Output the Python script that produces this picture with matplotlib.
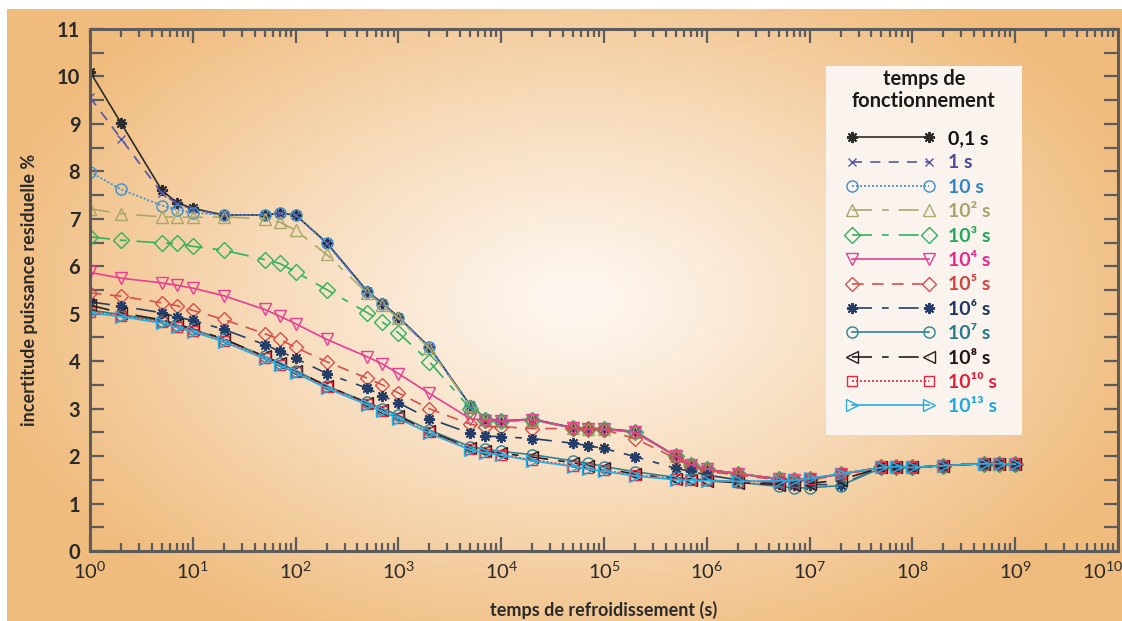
import numpy as np
import matplotlib
matplotlib.use("Agg")
import matplotlib.pyplot as plt
from matplotlib.ticker import LogLocator, LogFormatterMathtext, MultipleLocator, NullFormatter
from matplotlib.lines import Line2D
from matplotlib.patches import Rectangle
from matplotlib.transforms import ScaledTranslation

plt.rcParams.update({
    "font.family": ["Lato", "DejaVu Sans"],
    "mathtext.fontset": "custom",
    "mathtext.rm": "Lato",
    "mathtext.it": "Lato",
    "mathtext.bf": "Lato:bold",
})

# ---------------- data ----------------

cooling_time = [1, 2, 5, 7, 1e1, 2e1, 5e1, 7e1, 1e2, 2e2, 5e2, 7e2, 1e3, 2e3, 5e3, 7e3,
                1e4, 2e4, 5e4, 7e4, 1e5, 2e5, 5e5, 7e5, 1e6, 2e6, 5e6, 7e6, 1e7, 2e7,
                5e7, 7e7, 1e8, 2e8, 5e8, 7e8, 1e9]

y_01s = [10.10, 9.02, 7.60, 7.34, 7.22, 7.08, 7.08, 7.12, 7.08, 6.50, 5.47, 5.22, 4.93, 4.30,
         3.07, 2.80, 2.74, 2.78, 2.60, 2.58, 2.58, 2.52, 2.00, 1.82, 1.72, 1.63, 1.52, 1.50,
         1.52, 1.62, 1.76, 1.78, 1.76, 1.80, 1.84, 1.84, 1.83]
y_1s = [9.56, 8.69, 7.54, 7.32, 7.20, 7.08, 7.08, 7.12, 7.08, 6.49, 5.46, 5.21, 4.92, 4.29,
        3.06, 2.79, 2.74, 2.77, 2.60, 2.58, 2.57, 2.51, 2.00, 1.82, 1.72, 1.63, 1.52, 1.50,
        1.52, 1.62, 1.76, 1.78, 1.76, 1.80, 1.84, 1.84, 1.83]
y_10s = [7.99, 7.62, 7.28, 7.19, 7.13, 7.08, 7.08, 7.12, 7.08, 6.48, 5.45, 5.20, 4.92, 4.29,
         3.06, 2.79, 2.74, 2.77, 2.60, 2.58, 2.57, 2.51, 2.00, 1.82, 1.72, 1.63, 1.52, 1.50,
         1.52, 1.62, 1.76, 1.78, 1.76, 1.80, 1.84, 1.84, 1.83]
y_1e2 = [7.21, 7.11, 7.04, 7.04, 7.03, 7.04, 7.00, 6.93, 6.76, 6.25, 5.43, 5.18, 4.90, 4.27,
         3.05, 2.78, 2.73, 2.77, 2.59, 2.57, 2.57, 2.50, 2.00, 1.82, 1.72, 1.63, 1.52, 1.50,
         1.52, 1.62, 1.76, 1.78, 1.76, 1.80, 1.84, 1.84, 1.83]
y_1e3 = [6.62, 6.55, 6.49, 6.48, 6.42, 6.34, 6.14, 6.06, 5.88, 5.51, 5.02, 4.82, 4.60, 3.99,
         3.00, 2.76, 2.73, 2.76, 2.59, 2.57, 2.57, 2.50, 2.00, 1.82, 1.72, 1.63, 1.52, 1.50,
         1.52, 1.62, 1.76, 1.78, 1.76, 1.80, 1.84, 1.84, 1.83]
y_1e4 = [5.87, 5.75, 5.65, 5.60, 5.54, 5.38, 5.09, 4.95, 4.79, 4.46, 4.09, 3.94, 3.74, 3.32,
         2.79, 2.75, 2.74, 2.77, 2.59, 2.57, 2.57, 2.50, 2.00, 1.82, 1.72, 1.63, 1.52, 1.50,
         1.52, 1.62, 1.76, 1.78, 1.76, 1.80, 1.84, 1.84, 1.83]
y_1e5 = [5.44, 5.37, 5.23, 5.17, 5.07, 4.88, 4.58, 4.46, 4.29, 3.99, 3.64, 3.50, 3.33, 3.00,
         2.67, 2.62, 2.62, 2.58, 2.58, 2.57, 2.56, 2.37, 1.95, 1.78, 1.68, 1.60, 1.50, 1.48,
         1.50, 1.60, 1.76, 1.78, 1.76, 1.80, 1.84, 1.84, 1.83]
y_1e6 = [5.25, 5.16, 5.02, 4.93, 4.86, 4.67, 4.35, 4.21, 4.06, 3.74, 3.43, 3.27, 3.12, 2.79,
         2.48, 2.42, 2.41, 2.37, 2.27, 2.22, 2.16, 1.99, 1.74, 1.68, 1.60, 1.50, 1.42, 1.40,
         1.40, 1.40, 1.76, 1.78, 1.76, 1.80, 1.84, 1.84, 1.83]
y_1e7 = [5.08, 4.98, 4.85, 4.76, 4.67, 4.46, 4.10, 3.96, 3.80, 3.48, 3.13, 3.00, 2.86, 2.55,
         2.20, 2.14, 2.10, 2.03, 1.90, 1.85, 1.78, 1.67, 1.55, 1.52, 1.50, 1.45, 1.36, 1.33,
         1.33, 1.38, 1.75, 1.78, 1.75, 1.80, 1.84, 1.84, 1.82]
y_1e8 = [5.18, 5.02, 4.87, 4.78, 4.68, 4.47, 4.10, 3.96, 3.80, 3.48, 3.12, 2.98, 2.84, 2.52,
         2.17, 2.10, 2.06, 1.98, 1.86, 1.80, 1.74, 1.62, 1.52, 1.50, 1.48, 1.44, 1.40, 1.40,
         1.42, 1.50, 1.76, 1.78, 1.76, 1.80, 1.84, 1.84, 1.83]
y_1e10 = [5.04, 4.96, 4.82, 4.73, 4.64, 4.43, 4.07, 3.93, 3.77, 3.45, 3.10, 2.96, 2.81, 2.50,
          2.15, 2.08, 2.03, 1.92, 1.80, 1.74, 1.70, 1.60, 1.52, 1.50, 1.49, 1.46, 1.46, 1.46,
          1.52, 1.62, 1.76, 1.78, 1.76, 1.80, 1.84, 1.84, 1.83]
y_1e13 = [5.02, 4.94, 4.80, 4.71, 4.62, 4.41, 4.05, 3.91, 3.75, 3.43, 3.08, 2.94, 2.79, 2.48,
          2.13, 2.06, 2.02, 1.90, 1.78, 1.72, 1.68, 1.58, 1.50, 1.49, 1.48, 1.47, 1.48, 1.49,
          1.53, 1.63, 1.76, 1.78, 1.76, 1.80, 1.84, 1.84, 1.83]

labels = ["0,1 s", "1 s", "10 s", "10² s", "10³ s", "10⁴ s", "10⁵ s", "10⁶ s",
          "10⁷ s", "10⁸ s", "10¹⁰ s", "10¹³ s"]
series = [y_01s, y_1s, y_10s, y_1e2, y_1e3, y_1e4, y_1e5, y_1e6, y_1e7, y_1e8, y_1e10, y_1e13]

# ---------------- styles ----------------

colors = ["#2b2b2b", "#5456a8", "#3a8fd0", "#a9a86a", "#2fb35e", "#ec3d93",
          "#d8504c", "#243e69", "#2c8494", "#2a1c1c", "#e8283f", "#27aee3"]
text_colors = ["#111111", "#4a4a9c", "#2e86c8", "#a6a56c", "#23a857", "#e8288a",
               "#d2443f", "#1f3660", "#267c8a", "#221414", "#e2203a", "#1fa8e0"]
styles = ["-", (0, (6, 5)), (0, (1.2, 1.2)), (0, (12, 6, 4, 6)), (0, (12, 6, 4, 6)), "-",
          (0, (7, 5)), (0, (12, 6, 4, 6)), "-", (0, (12, 6, 4, 6)), (0, (1.2, 1.2)), "-"]
star = (8, 2, 0)
markers = [star, "x", "o", "^", "D", "v", "D", star, "o", "<", "s", ">"]
msizes = [8, 6, 8, 8, 8, 9, 7, 8, 8, 8, 7, 8]

W, H = 1122, 621
fig = plt.figure(figsize=(W / 100, H / 100), dpi=100, facecolor="white")

# background: orange panel with a light radial glow in the middle
bg = fig.add_axes([7 / W, 0, 1 - 7 / W, 1 - 9 / H], zorder=-5)
bg.axis("off")
gx, gy = np.meshgrid(np.linspace(7, W, 400), np.linspace(9, H, 240))
d = np.sqrt(((gx - 575) / 600) ** 2 + ((gy - 300) / 380) ** 2)
t = np.clip(d, 0, 1) ** 1.1
edge = np.array([240, 188, 126]) / 255
centre = np.array([254, 248, 242]) / 255
img = centre[None, None, :] * (1 - t[..., None]) + edge[None, None, :] * t[..., None]
bg.imshow(img, aspect="auto", extent=(0, 1, 0, 1), origin="upper")
bg.set_xlim(0, 1)
bg.set_ylim(0, 1)

# legend panel
fig.add_artist(Rectangle((826 / W, 1 - 435 / H), 196 / W, 369 / H, transform=fig.transFigure,
                         facecolor="#fbf4ee", edgecolor="none", zorder=-1))
fig.text(924 / W, 1 - 90 / H, "temps de\nfonctionnement", ha="center", va="center",
         fontsize=14.5, fontweight="bold", color="#1a1a1a", linespacing=1.1)

ax = fig.add_axes([90 / W, 1 - 551 / H, (1118 - 90) / W, (551 - 29) / H])
ax.set_facecolor("none")

for ys, c, ls, m, ms in zip(series, colors, styles, markers, msizes):
    filled = m == star
    ax.plot(cooling_time, ys, color=c, linestyle=ls, linewidth=1.2,
            marker=m, markersize=ms, markeredgewidth=1.4 if filled else 1.0,
            markerfacecolor=c if filled else "none", markeredgecolor=c)

ax.set_xscale("log")
ax.set_xlim(1, 1e10)
ax.set_ylim(0, 11)
ax.set_xticks([10.0 ** k for k in range(11)])
ax.xaxis.set_minor_locator(LogLocator(base=10, subs=np.arange(2, 10), numticks=200))
ax.xaxis.set_major_formatter(LogFormatterMathtext())
ax.xaxis.set_minor_formatter(NullFormatter())
ax.yaxis.set_major_locator(MultipleLocator(1))
ax.yaxis.set_minor_locator(MultipleLocator(0.5))

spine_c = "#5c5c5c"
for s in ax.spines.values():
    s.set_color(spine_c)
    s.set_linewidth(2.2)
ax.tick_params(which="both", direction="in", top=True, right=True, color=spine_c, width=1.6)
ax.tick_params(which="major", length=10, labelsize=14.5, labelcolor="#2a2a2a", pad=7)
ax.tick_params(axis="x", which="minor", length=6)
ax.tick_params(axis="y", which="minor", length=10)
for lab in ax.get_yticklabels():
    lab.set_fontweight("bold")

ax.set_xlabel("temps de refroidissement (s)", fontsize=13, color="#2a2a2a",
              fontweight="bold", labelpad=14)
ax.set_ylabel("incertitude puissance residuelle %", fontsize=13, color="#2a2a2a",
              fontweight="bold", labelpad=14)

handles = []
for c, ls, m, ms in zip(colors, styles, markers, msizes):
    filled = m == star
    handles.append(Line2D([], [], color=c, linestyle=ls, linewidth=1.2, marker=m,
                          markersize=ms, markeredgewidth=1.4 if filled else 1.0,
                          markerfacecolor=c if filled else "none", markeredgecolor=c))

leg = ax.legend(handles, labels, loc="upper left",
                bbox_to_anchor=(846 / W, 1 - 130 / H), bbox_transform=fig.transFigure,
                borderaxespad=0, borderpad=0, frameon=False, numpoints=2,
                handlelength=4.55, handletextpad=0.72, labelspacing=0.38, fontsize=14)
for txt, tc in zip(leg.get_texts(), text_colors):
    txt.set_color(tc)
    txt.set_fontweight("bold")

# keep the last decade label inside the picture
fig.canvas.draw()
for tick in ax.xaxis.get_major_ticks():
    if tick.get_loc() >= 1e10:
        lbl = tick.label1
        lbl.set_transform(lbl.get_transform() + ScaledTranslation(-0.15, 0, fig.dpi_scale_trans))

fig.savefig("out.png", dpi=100, facecolor="white")
